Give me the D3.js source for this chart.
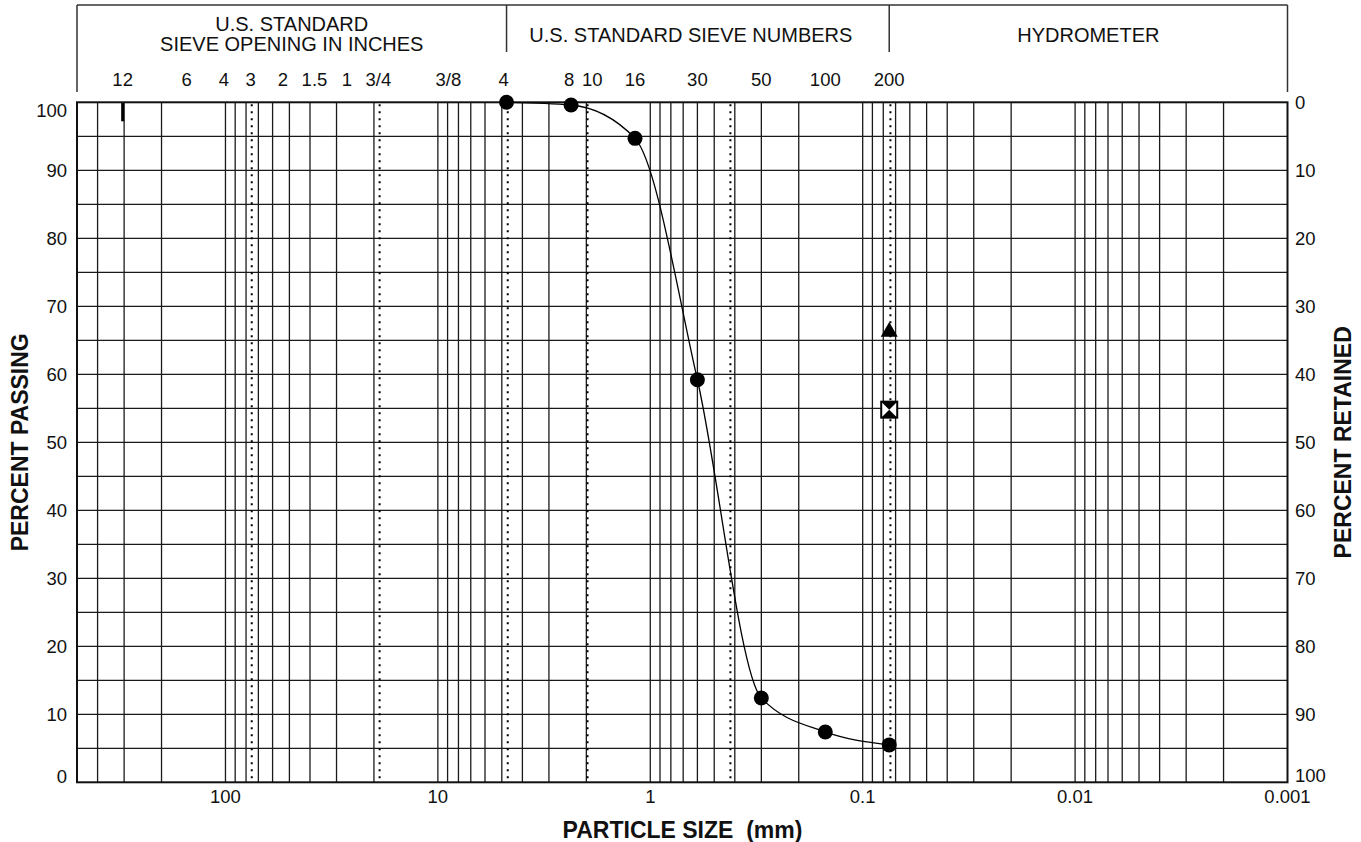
<!DOCTYPE html>
<html>
<head>
<meta charset="utf-8">
<script src="https://cdn.jsdelivr.net/npm/d3@7"></script>
<style>
  html, body { margin: 0; padding: 0; background: #fff; }
  svg { display: block; font-family: "Liberation Sans", Arial, sans-serif; }
</style>
</head>
<body>
<svg id="chart" width="1361" height="842"></svg>
<script>
// Sieve analysis results (particle size in mm, percent passing)
const sieveSizes = [4.75, 2.36, 1.18, 0.6, 0.3, 0.15, 0.075];
const percentPassing = [100, 99.6, 94.7, 59.2, 12.4, 7.4, 5.5];

// Additional markers plotted on the #200 sieve line
const triangleSize = 0.075;
const triangleValue = 66.4;
const hourglassSize = 0.075;
const hourglassValue = 54.8;

// Sieve opening labels (inches) and their sizes in mm
const inchLabels = ["12", "6", "4", "3", "2", "1.5", "1", "3/4", "3/8"];
const inchSizes = [304.8, 152.4, 101.6, 76.2, 50.8, 38.1, 25.4, 19.05, 9.525];

// U.S. standard sieve numbers and their openings in mm
const numberLabels = ["4", "8", "10", "16", "30", "50", "100", "200"];
const numberSizes = [4.75, 2.36, 2.0, 1.18, 0.6, 0.3, 0.15, 0.075];

// Soil classification boundaries (3", 3/4", #4, #10, #40, #200)
const boundarySizes = [76.2, 19.05, 4.75, 2.0, 0.425, 0.075];

// Bottom axis labels
const sizeTicks = [100, 10, 1, 0.1, 0.01, 0.001];
const sizeTickLabels = ["100", "10", "1", "0.1", "0.01", "0.001"];

// Percent axis ticks
const percentTicks = [0, 10, 20, 30, 40, 50, 60, 70, 80, 90, 100];

const svg = d3.select("#chart");

const x = d3.scaleLog().domain([500, 0.001]).range([77, 1287.5]);
const y = d3.scaleLinear().domain([0, 100]).range([782.3, 102.3]);

const plotL = x.range()[0], plotR = x.range()[1];
const plotT = y.range()[1], plotB = y.range()[0];

// Header boxes
const hdr = svg.append("g").attr("stroke", "#333").attr("stroke-width", 1.5).attr("fill", "none");
hdr.append("line").attr("x1", plotL).attr("x2", plotR).attr("y1", 5).attr("y2", 5);
hdr.append("line").attr("x1", plotL).attr("x2", plotL).attr("y1", 5).attr("y2", 92);
hdr.append("line").attr("x1", plotR).attr("x2", plotR).attr("y1", 5).attr("y2", 92);
hdr.append("line").attr("x1", x(4.75)).attr("x2", x(4.75)).attr("y1", 5).attr("y2", 52);
hdr.append("line").attr("x1", x(0.075)).attr("x2", x(0.075)).attr("y1", 5).attr("y2", 52);

const hdrText = svg.append("g").attr("font-size", 20).attr("fill", "#111").attr("text-anchor", "middle");
hdrText.append("text").attr("x", (plotL + x(4.75)) / 2).attr("y", 31).text("U.S. STANDARD");
hdrText.append("text").attr("x", (plotL + x(4.75)) / 2).attr("y", 51).text("SIEVE OPENING IN INCHES");
hdrText.append("text").attr("x", (x(4.75) + x(0.075)) / 2 - 7).attr("y", 42).text("U.S. STANDARD SIEVE NUMBERS");
hdrText.append("text").attr("x", (x(0.075) + plotR) / 2).attr("y", 42).text("HYDROMETER");

// Sieve labels above the plot
const inchNudge = { "2": -5, "1": -5, "3/8": 6 };
const numNudge = { "4": -3, "8": -2, "10": 6 };
const sieveText = svg.append("g").attr("font-size", 18.5).attr("fill", "#111").attr("text-anchor", "middle");
inchLabels.forEach((lab, i) => {
  sieveText.append("text").attr("x", x(inchSizes[i]) + (inchNudge[lab] || 0)).attr("y", 86).text(lab);
});
numberLabels.forEach((lab, i) => {
  sieveText.append("text").attr("x", x(numberSizes[i]) + (numNudge[lab] || 0)).attr("y", 86).text(lab);
});

// Log grid: 1..9 in each decade
const gridVals = [];
for (let k = -3; k <= 2; k++) {
  for (let m = 1; m <= 9; m++) {
    const v = m * Math.pow(10, k);
    if (v > 0.001 + 1e-12 && v < 500 - 1e-9) gridVals.push(v);
  }
}
const grid = svg.append("g").attr("stroke", "#1a1a1a").attr("stroke-width", 1.3);
grid.selectAll("line.v").data(gridVals).join("line")
  .attr("x1", d => x(d)).attr("x2", d => x(d)).attr("y1", plotT).attr("y2", plotB);
grid.selectAll("line.h").data(d3.range(5, 100, 5)).join("line")
  .attr("x1", plotL).attr("x2", plotR).attr("y1", d => y(d)).attr("y2", d => y(d));

// Classification boundaries (dotted)
svg.append("g").attr("stroke", "#000").attr("stroke-width", 2).attr("stroke-dasharray", "2,5")
  .selectAll("line").data(boundarySizes).join("line")
  .attr("x1", d => x(d) + 1.2).attr("x2", d => x(d) + 1.2).attr("y1", plotT + 2).attr("y2", plotB);

// 12-inch tick mark
svg.append("line").attr("x1", x(304.8)).attr("x2", x(304.8)).attr("y1", plotT).attr("y2", plotT + 19)
  .attr("stroke", "#000").attr("stroke-width", 3);

// Plot frame
svg.append("rect").attr("x", plotL).attr("y", plotT).attr("width", plotR - plotL).attr("height", plotB - plotT)
  .attr("fill", "none").attr("stroke", "#111").attr("stroke-width", 2);

// Gradation curve
const pts = sieveSizes.map((s, i) => [x(s), y(percentPassing[i])]);
svg.append("path").attr("d", d3.line().curve(d3.curveMonotoneX)(pts))
  .attr("fill", "none").attr("stroke", "#000").attr("stroke-width", 1.3);

svg.append("g").selectAll("circle").data(sieveSizes).join("circle")
  .attr("cx", d => x(d)).attr("cy", (d, i) => y(percentPassing[i])).attr("r", 7.5).attr("fill", "#000");

// Triangle marker
svg.append("path").attr("d", d3.symbol(d3.symbolTriangle, 125)())
  .attr("transform", `translate(${x(triangleSize)},${y(triangleValue) + 1})`).attr("fill", "#000");

// Square with hourglass marker
const hx = x(hourglassSize), hy = y(hourglassValue), hs = 8;
svg.append("rect").attr("x", hx - hs).attr("y", hy - hs).attr("width", 2 * hs).attr("height", 2 * hs)
  .attr("fill", "#fff").attr("stroke", "#000").attr("stroke-width", 2);
svg.append("path")
  .attr("d", `M${hx - hs},${hy - hs}L${hx + hs},${hy - hs}L${hx - hs},${hy + hs}L${hx + hs},${hy + hs}Z`)
  .attr("fill", "#000");

// Bottom axis labels
const bt = svg.append("g").attr("font-size", 18.5).attr("fill", "#111").attr("text-anchor", "middle");
sizeTicks.forEach((v, i) => {
  bt.append("text").attr("x", x(v)).attr("y", 803).text(sizeTickLabels[i]);
});

// Left axis: percent passing
const lt = svg.append("g").attr("font-size", 18.5).attr("fill", "#111").attr("text-anchor", "end");
percentTicks.forEach(v => {
  let cy = y(v);
  if (v === 100) cy += 8.5;
  if (v === 0) cy -= 6;
  lt.append("text").attr("x", 67).attr("y", cy).attr("dy", "0.35em").text(v);
});

// Right axis: percent retained
const rt = svg.append("g").attr("font-size", 18.5).attr("fill", "#111").attr("text-anchor", "start");
percentTicks.forEach(v => {
  let cy = y(v);
  if (v === 0) cy -= 7;
  rt.append("text").attr("x", 1295).attr("y", cy).attr("dy", "0.35em").text(100 - v);
});

// Axis titles
svg.append("text").attr("transform", `translate(28,${(plotT + plotB) / 2}) rotate(-90)`)
  .attr("text-anchor", "middle").attr("font-size", 23).attr("font-weight", "bold").attr("fill", "#111")
  .text("PERCENT PASSING");
svg.append("text").attr("transform", `translate(1351,${(plotT + plotB) / 2}) rotate(-90)`)
  .attr("text-anchor", "middle").attr("font-size", 23).attr("font-weight", "bold").attr("fill", "#111")
  .text("PERCENT RETAINED");
svg.append("text").attr("x", 682.5).attr("y", 838).attr("text-anchor", "middle")
  .attr("font-size", 23).attr("font-weight", "bold").attr("fill", "#111")
  .style("white-space", "pre")
  .text("PARTICLE SIZE  (mm)");
</script>
</body>
</html>
